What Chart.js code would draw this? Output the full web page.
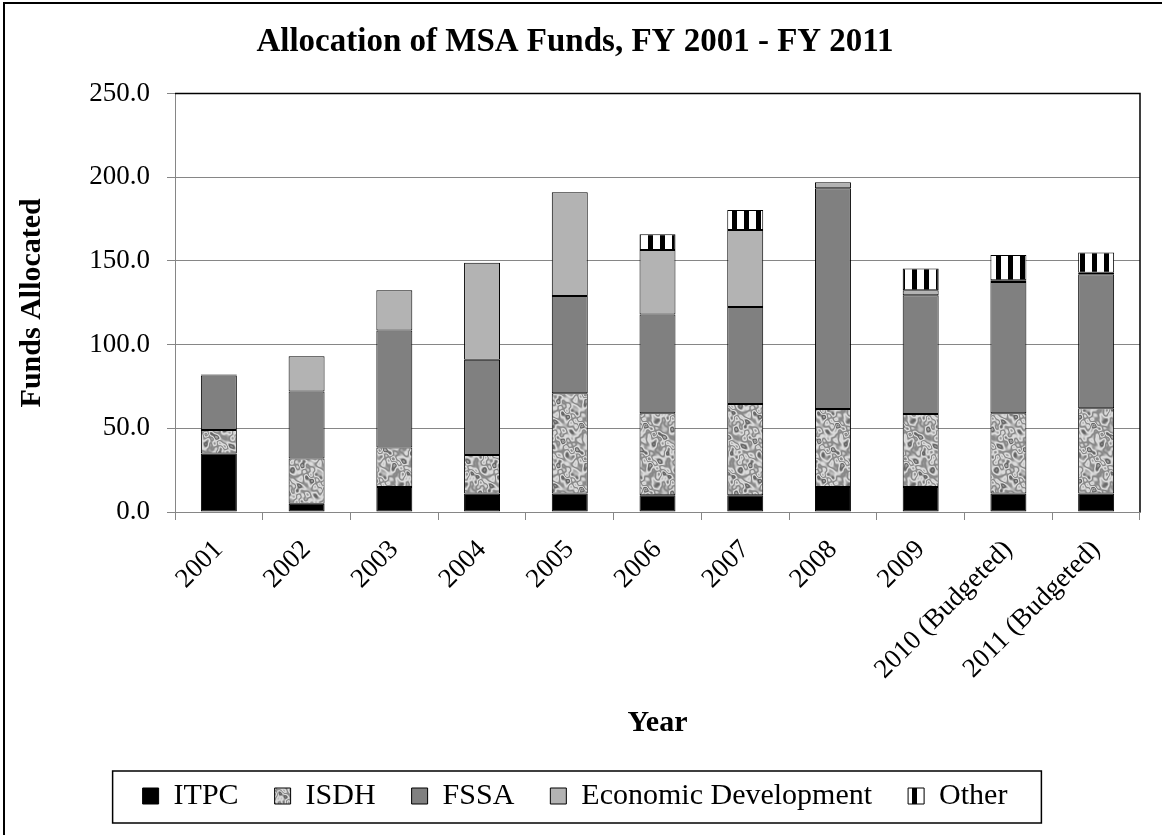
<!DOCTYPE html>
<html><head><meta charset="utf-8">
<script src="https://cdn.jsdelivr.net/npm/chart.js@4/dist/chart.umd.min.js"></script>
<style>html,body{margin:0;padding:0;background:#fff}#wrap{width:1162px;height:835px;position:relative}</style>
</head><body><div id="wrap"><canvas id="c" width="1162" height="835"></canvas></div>
<script>
const categories = ['2001','2002','2003','2004','2005','2006','2007','2008','2009','2010 (Budgeted)','2011 (Budgeted)'];
const itpc  = [35, 5, 15, 11, 11, 10, 10, 15, 15, 11, 11];
const isdh  = [14, 27, 23.5, 23, 60, 49, 54.5, 46.5, 43.5, 48, 51];
const fssa  = [32.5, 40, 70, 57, 58, 59, 58, 132, 71, 78.5, 80];
const econ  = [0.6, 21, 24, 58, 62, 38.5, 46, 3.5, 3, 1, 1];
const other = [0, 0, 0, 0, 0, 9.5, 12, 0, 13, 15, 12];
const seriesNames = ['ITPC', 'ISDH', 'FSSA', 'Economic Development', 'Other'];
const yTicks = [0, 50, 100, 150, 200, 250];
const chartTitle = 'Allocation of MSA Funds, FY 2001 - FY 2011';
const xTitle = 'Year';
const yTitle = 'Funds Allocated';

const FONT = "'Liberation Serif', 'Times New Roman', serif";

function marblePattern(ctx) {
  const s = 64;
  const c = document.createElement('canvas');
  c.width = s; c.height = s;
  const g = c.getContext('2d');
  const img = g.createImageData(s, s);
  const waves = [[2, 3, 0.3], [5, -2, 1.1], [-3, 5, 2.0], [7, 4, 0.7], [4, -7, 2.6], [9, 2, 1.9], [-6, 9, 0.4]];
  for (let y = 0; y < s; y++) {
    for (let x = 0; x < s; x++) {
      const u = x / s * 2 * Math.PI, v = y / s * 2 * Math.PI;
      let n = 0;
      waves.forEach((w, k) => { n += Math.sin(w[0] * u + w[1] * v + w[2]) / (1 + k * 0.25); });
      const m = Math.sin(n * 2.4);
      let val = 178 + 42 * m;
      if (n > 1.6) val -= 55 * Math.min(1, (n - 1.6) / 0.8);
      val = Math.max(80, Math.min(230, val));
      const i = (y * s + x) * 4;
      img.data[i] = img.data[i + 1] = img.data[i + 2] = val;
      img.data[i + 3] = 255;
    }
  }
  g.putImageData(img, 0, 0);
  return ctx.createPattern(c, 'repeat');
}
function stripePattern(ctx) {
  const c = document.createElement('canvas');
  c.width = 12; c.height = 4;
  const g = c.getContext('2d');
  g.fillStyle = '#fff'; g.fillRect(0, 0, 12, 4);
  g.fillStyle = '#000'; g.fillRect(0, 0, 5, 4);
  return ctx.createPattern(c, 'repeat');
}

const canvas = document.getElementById('c');
const ctx = canvas.getContext('2d');
const fills = ['#000000', marblePattern(ctx), '#808080', '#b3b3b3', stripePattern(ctx)];
const values = [itpc, isdh, fssa, econ, other];

const framePlugin = {
  id: 'frames',
  beforeDatasetsDraw(chart) {
    const a = chart.chartArea, c = chart.ctx;
    c.save();
    c.strokeStyle = '#000'; c.lineWidth = 1.5;
    c.beginPath();
    c.moveTo(a.left, a.top); c.lineTo(a.right, a.top); c.lineTo(a.right, a.bottom);
    c.stroke();
    c.restore();
  },
  afterDraw(chart) {
    const c = chart.ctx;
    const hb = chart.legend.legendHitBoxes;
    c.save();
    if (hb && hb.length) {
      const first = hb[0], last = hb[hb.length - 1];
      const l = first.left - 30, r = last.left + last.width + 34;
      const t = first.top - 10, b = first.top + first.height + 12;
      c.strokeStyle = '#000'; c.lineWidth = 1.5;
      c.strokeRect(l, t, r - l, b - t);
    }
    c.strokeStyle = '#000'; c.lineWidth = 2;
    c.strokeRect(4, 3, 1300, 1000);
    c.restore();
  }
};

new Chart(canvas, {
  type: 'bar',
  data: {
    labels: categories,
    datasets: seriesNames.map((n, i) => ({
      label: n,
      data: values[i],
      backgroundColor: fills[i],
      borderColor: '#000',
      borderWidth: 1,
      borderSkipped: false,
      barPercentage: 0.41,
      categoryPercentage: 1
    }))
  },
  options: {
    responsive: false,
    animation: false,
    layout: { padding: { left: 10, right: 22, top: 5, bottom: 14 } },
    plugins: {
      title: {
        display: true, text: chartTitle, color: '#000',
        font: { family: FONT, size: 33, weight: 'bold' },
        padding: { top: 18, bottom: 31 }
      },
      legend: {
        position: 'bottom',
        labels: {
          color: '#000',
          font: { family: FONT, size: 30 },
          boxWidth: 16, boxHeight: 16,
          padding: 36
        }
      },
      tooltip: { enabled: false }
    },
    scales: {
      x: {
        stacked: true,
        afterFit(s) { s.height = 233; },
        grid: { display: true, drawOnChartArea: false, drawTicks: true, tickLength: 8, color: '#868686', offset: true },
        border: { color: '#868686', width: 1 },
        ticks: {
          color: '#000', font: { family: FONT, size: 27 },
          minRotation: 45, maxRotation: 45, autoSkip: false, padding: 14
        },
        title: {
          display: true, text: xTitle, color: '#000',
          font: { family: FONT, size: 30, weight: 'bold' },
          padding: { top: 0, bottom: 4 }
        }
      },
      y: {
        stacked: true,
        min: 0, max: 250,
        afterFit(s) { s.width = 165; },
        afterBuildTicks(s) { s.ticks = yTicks.map(v => ({ value: v })); },
        grid: { color: '#868686', tickLength: 8, drawTicks: true },
        border: { color: '#868686', width: 1 },
        ticks: {
          color: '#000', font: { family: FONT, size: 27 }, padding: 17,
          callback: v => Number(v).toFixed(1)
        },
        title: {
          display: true, text: yTitle, color: '#000',
          font: { family: FONT, size: 30, weight: 'bold' },
          padding: { top: 4, bottom: 0 }
        }
      }
    }
  },
  plugins: [framePlugin]
});
</script>
</body></html>
